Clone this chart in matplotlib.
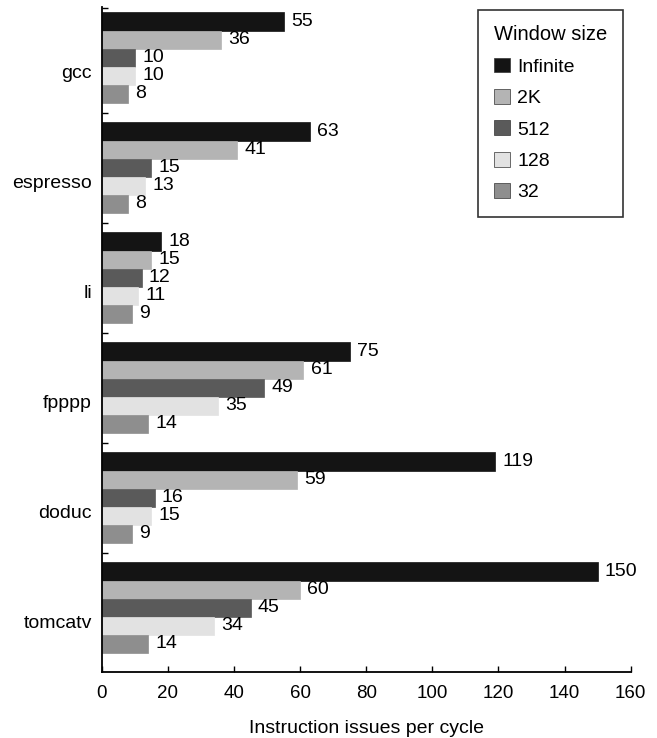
import numpy as np
import matplotlib.pyplot as plt
from matplotlib.ticker import FixedLocator

plt.rcParams["font.family"] = ["Liberation Sans", "DejaVu Sans"]

benchmarks = ["gcc", "espresso", "li", "fpppp", "doduc", "tomcatv"]
window_sizes = ["Infinite", "2K", "512", "128", "32"]
infinite = [55, 63, 18, 75, 119, 150]
size_2k = [36, 41, 15, 61, 59, 60]
size_512 = [10, 15, 12, 49, 16, 45]
size_128 = [10, 13, 11, 35, 15, 34]
size_32 = [8, 8, 9, 14, 9, 14]
x_ticks = [0, 20, 40, 60, 80, 100, 120, 140, 160]

series = [infinite, size_2k, size_512, size_128, size_32]
colors = ["#141414", "#b4b4b4", "#5a5a5a", "#e2e2e2", "#8e8e8e"]

fig = plt.figure(figsize=(6.57, 7.38), dpi=100)
axs = fig.add_axes([0.155, 0.0894, 0.805, 0.901])

n = len(benchmarks)
bar_h = 0.164
centers = np.arange(n)

for i, (vals, col) in enumerate(zip(series, colors)):
    y = centers + (i - 2) * bar_h
    axs.barh(y, vals, height=bar_h, color=col, label=window_sizes[i],
             edgecolor=col, linewidth=0.5)
    for yy, v in zip(y, vals):
        axs.text(v + 2.2, yy, str(v), va="center", ha="left", fontsize=14)

ylo, yhi = -0.459, 5.586
axs.set_ylim(yhi, ylo)
axs.set_xlim(0, 160)
# category labels sit a little below the group centre, as in the original
axs.set_yticks(centers + 0.13)
axs.set_yticklabels(benchmarks, fontsize=14)
axs.yaxis.set_minor_locator(FixedLocator([ylo + 0.005] + list(np.arange(0.5, n - 1, 1.0))))
axs.set_xticks(x_ticks)
axs.set_xticklabels([str(t) for t in x_ticks], fontsize=13.5)

axs.tick_params(axis="y", which="major", length=0, pad=7)
axs.tick_params(axis="y", which="minor", length=4, direction="in", width=1)
axs.tick_params(axis="x", which="major", length=4, direction="in", width=1, pad=9)

axs.spines["top"].set_visible(False)
axs.spines["right"].set_visible(False)
axs.spines["left"].set_linewidth(1.3)
axs.spines["bottom"].set_linewidth(1.3)

axs.set_xlabel("Instruction issues per cycle", fontsize=14, labelpad=13)

leg = axs.legend(title="Window size", loc="upper right", bbox_to_anchor=(0.985, 0.996),
                 borderaxespad=0, fontsize=14, title_fontsize=14.5, frameon=True,
                 fancybox=False, handlelength=0.8, handleheight=0.8, handletextpad=0.4,
                 labelspacing=0.68, borderpad=0.8, alignment="left")
leg.get_frame().set_edgecolor("black")
leg.get_frame().set_linewidth(1.2)
for h in leg.legend_handles:
    h.set_edgecolor("#333333")

fig.savefig("out.png", dpi=100)
